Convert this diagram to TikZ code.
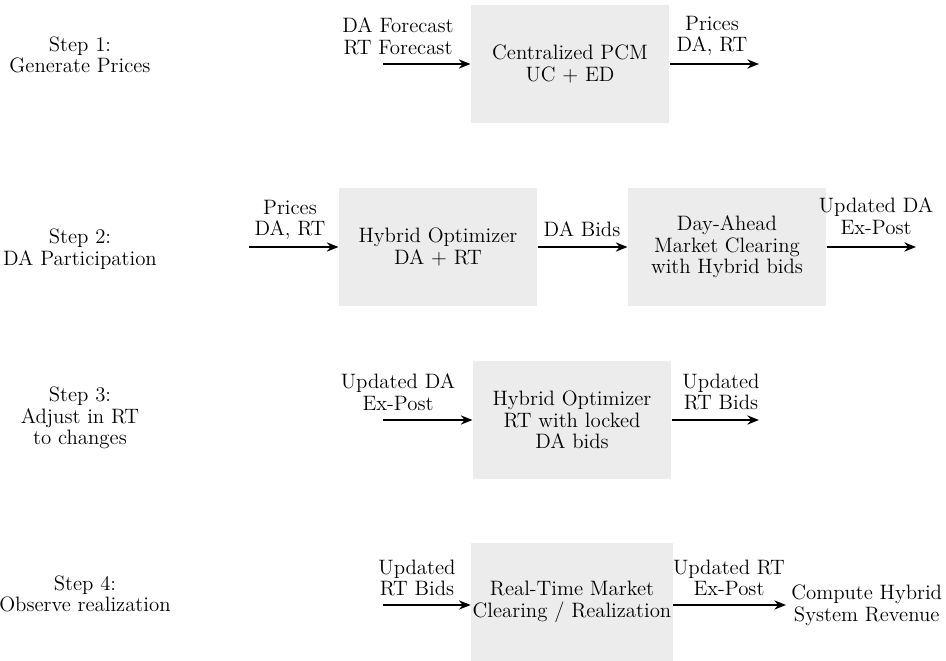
\documentclass[tikz,border=0pt]{standalone}
\usetikzlibrary{arrows.meta}
\tikzset{
  stagebox/.style={rectangle,fill=gray!15,minimum width=119pt,minimum height=71pt,align=center,inner sep=1pt,font=\fontsize{12.5}{13}\selectfont},
  flowtext/.style={align=center,inner sep=1pt,font=\fontsize{12.5}{13}\selectfont},
  flowarrow/.style={-{Stealth[length=7pt,width=5.5pt]},line width=1.2pt}
}
\begin{document}
\begin{tikzpicture}[x=0.6pt,y=-0.6pt]
  \useasboundingbox (0,0) rectangle (946,661);
  % step 1
  \node[flowtext] (step1) at (80,55) {Step 1:\\Generate Prices};
  \node[stagebox] (pcm) at (570,64) {Centralized PCM\\UC + ED};
  \coordinate (in1) at (383,64);
  \coordinate (out1) at (759,64);
  \node[flowtext] (l1in) at (398,36) {DA Forecast\\RT Forecast};
  \node[flowtext] (l1out) at (712,36) {Prices\\DA, RT};
  \draw[flowarrow] (in1) -- (pcm.west);
  \draw[flowarrow] (pcm.east) -- (out1);
  % step 2
  \node[flowtext] (step2) at (80,249) {Step 2:\\DA Participation};
  \node[stagebox] (hyb) at (438,247) {Hybrid Optimizer\\DA + RT};
  \node[stagebox] (dam) at (727,247) {Day-Ahead\\Market Clearing\\with Hybrid bids};
  \coordinate (in2) at (249,247);
  \coordinate (out2) at (916,247);
  \node[flowtext] (l2in) at (290,220) {Prices\\DA, RT};
  \node[flowtext] (l2mid) at (582,229) {DA Bids};
  \node[flowtext] (l2out) at (876,216) {Updated DA\\Ex-Post};
  \draw[flowarrow] (in2) -- (hyb.west);
  \draw[flowarrow] (hyb.east) -- (dam.west);
  \draw[flowarrow] (dam.east) -- (out2);
  % step 3
  \node[flowtext] (step3) at (80,418) {Step 3:\\Adjust in RT\\to changes};
  \node[stagebox] (hrt) at (572,420) {Hybrid Optimizer\\RT with locked\\DA bids};
  \coordinate (in3) at (383,420);
  \coordinate (out3) at (759,420);
  \node[flowtext] (l3in) at (398,392) {Updated DA\\Ex-Post};
  \node[flowtext] (l3out) at (721,392) {Updated\\RT Bids};
  \draw[flowarrow] (in3) -- (hrt.west);
  \draw[flowarrow] (hrt.east) -- (out3);
  % step 4
  \node[flowtext] (step4) at (85,594) {Step 4:\\Observe realization};
  \node[stagebox] (rtm) at (572,602) {Real-Time Market\\Clearing / Realization};
  \coordinate (in4) at (383,605);
  \node[flowtext,anchor=west,inner sep=3pt] (rev) at (786,605) {Compute Hybrid\\System Revenue};
  \node[flowtext] (l4in) at (417,578) {Updated\\RT Bids};
  \node[flowtext] (l4out) at (729,578) {Updated RT\\Ex-Post};
  \draw[flowarrow] (in4) -- (in4 -| rtm.west);
  \draw[flowarrow] (rtm.east |- in4) -- (rev.west);
\end{tikzpicture}
\end{document}
